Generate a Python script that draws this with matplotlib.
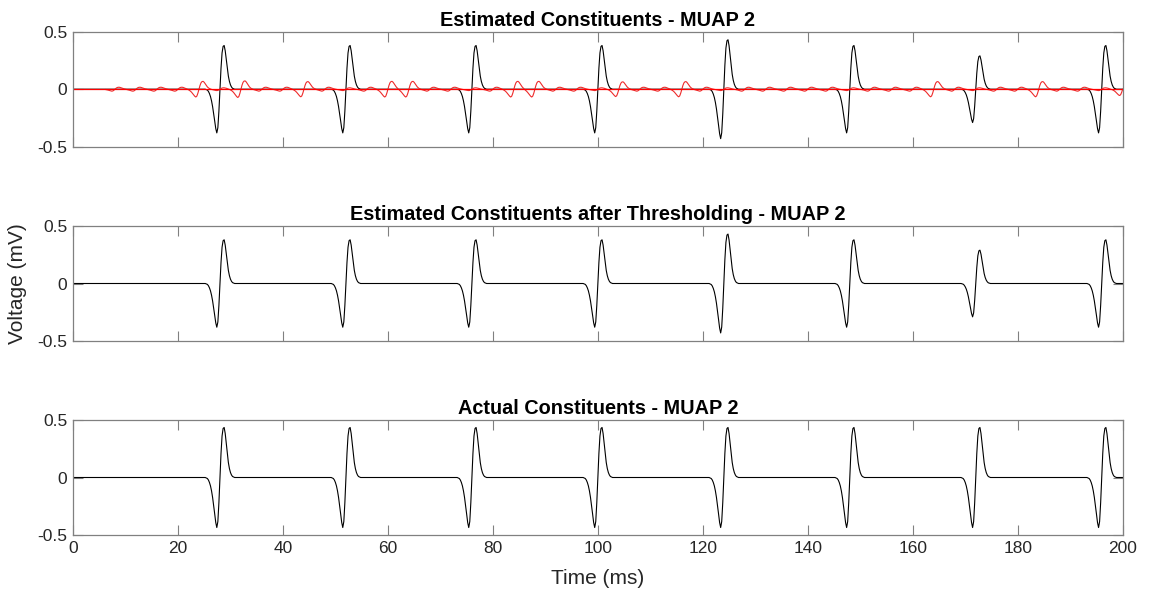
import numpy as np
import matplotlib
matplotlib.use("Agg")
import matplotlib.pyplot as plt

plt.rcParams['font.family'] = ['Liberation Sans', 'DejaVu Sans']

# ---------------- data ----------------
dt = 0.2                     # ms, sampling step
t_end = 200.0

# normalised MUAP waveform, sampled every 0.2 ms from -2.8 ms to +3.0 ms (zero crossing at index 14)
muap_template = [0.0, -0.01, -0.02, -0.05, -0.10, -0.17, -0.27, -0.40, -0.56, -0.73,
                 -0.90, -1.00, -0.88, -0.50, 0.0, 0.48, 0.83, 0.98, 1.00, 0.88,
                 0.68, 0.47, 0.30, 0.18, 0.10, 0.05, 0.02, 0.01, 0.0, 0.0]
template_zero_index = 14

# firing times (zero crossing, ms)
spike_times = [28.0, 52.0, 76.0, 100.0, 124.0, 148.0, 172.0, 196.0]
est_amps = [0.38, 0.38, 0.38, 0.38, 0.43, 0.38, 0.29, 0.38]
thr_amps = [0.38, 0.38, 0.38, 0.38, 0.43, 0.38, 0.29, 0.38]
actual_amps = [0.435, 0.435, 0.435, 0.435, 0.435, 0.435, 0.435, 0.435]

# red residual ripple (zero-crossing times, ms, and amplitudes, mV)
red_start = 6.2
red_times = [8.0, 12.0, 16.0, 20.0, 24.0, 28.0, 32.0, 36.0, 40.0, 44.0,
             48.0, 52.0, 56.0, 60.0, 64.0, 68.0, 72.0, 76.0, 80.0, 84.0,
             88.0, 92.0, 96.0, 100.0, 104.0, 108.0, 112.0, 116.0, 120.0, 124.0,
             128.0, 132.0, 136.0, 140.0, 144.0, 148.0, 152.0, 156.0, 160.0, 164.0,
             168.0, 172.0, 176.0, 180.0, 184.0, 188.0, 192.0, 196.0, 200.0]
red_amps = [0.017, 0.017, 0.017, 0.017, 0.068, 0.012, 0.072, 0.017, 0.017, 0.066,
            0.017, 0.012, 0.017, 0.068, 0.068, 0.017, 0.017, 0.012, 0.017, 0.068,
            0.068, 0.017, 0.017, 0.012, 0.064, 0.017, 0.017, 0.066, 0.017, 0.012,
            0.017, 0.017, 0.017, 0.017, 0.017, 0.012, 0.017, 0.017, 0.017, 0.066,
            0.017, 0.012, 0.017, 0.017, 0.066, 0.017, 0.017, 0.012, 0.055]

titles = ["Estimated Constituents - MUAP 2",
          "Estimated Constituents after Thresholding - MUAP 2",
          "Actual Constituents - MUAP 2"]
x_ticks = [0, 20, 40, 60, 80, 100, 120, 140, 160, 180, 200]
y_ticks = [-0.5, 0, 0.5]
y_tick_labels = ["-0.5", "0", "0.5"]

# ---------------- build signals ----------------
t = np.arange(0, t_end + dt / 2, dt)
tmpl = np.asarray(muap_template)


def build(times, amps):
    y = np.zeros_like(t)
    for c, a in zip(times, amps):
        k = int(round(c / dt))
        for j, v in enumerate(tmpl):
            i = k + j - template_zero_index
            if 0 <= i < len(y):
                y[i] += a * v
    return y


est = build(spike_times, est_amps)
thr = build(spike_times, thr_amps)
act = build(spike_times, actual_amps)
red = build(red_times, red_amps)
red_mask = t >= red_start

# ---------------- figure ----------------
fig = plt.figure(figsize=(11.49, 5.97), dpi=100)
W, H = 1149.0, 597.0
left, right = 73.0, 1122.7
tops = [31.7, 226.0, 420.0]
ax_h = 115.0

spine_col = '#808080'
text_col = '#262626'
axes = []
for k, top in enumerate(tops):
    ax = fig.add_axes([left / W, 1 - (top + ax_h) / H, (right - left) / W, ax_h / H])
    axes.append(ax)
    ax.set_xlim(0, 200)
    ax.set_ylim(-0.5, 0.5)
    ax.set_xticks(x_ticks)
    ax.set_yticks(y_ticks)
    ax.set_yticklabels(y_tick_labels)
    ax.tick_params(direction='in', length=7.2, width=0.8, color=spine_col,
                   labelsize=12.5, labelcolor=text_col, top=True, right=True, pad=4)
    if k < 2:
        ax.set_xticklabels([])
    for s in ax.spines.values():
        s.set_color(spine_col)
        s.set_linewidth(0.9)
    ax.set_title(titles[k], fontsize=14.3, fontweight='bold', color='black', pad=4)

axes[0].plot(t, est, color='black', lw=0.8)
axes[0].plot(t[red_mask], red[red_mask], color='#ee2a2a', lw=0.8)
axes[0].axhline(0, color='red', lw=0.9)
axes[1].plot(t, thr, color='black', lw=0.8)
axes[2].plot(t, act, color='black', lw=0.8)

fig.text(((left + right) / 2) / W, 1 - 578 / H, "Time (ms)", fontsize=15,
         color=text_col, ha='center', va='center')
fig.text(18 / W, 1 - 284 / H, "Voltage (mV)", rotation=90, fontsize=15,
         color=text_col, ha='center', va='center')

fig.savefig("out.png", dpi=100)
